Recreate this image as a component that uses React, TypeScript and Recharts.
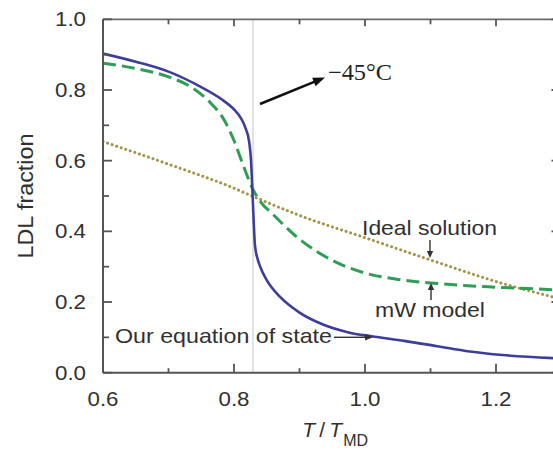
import React from 'react';
import { LineChart, Line, XAxis, YAxis, ReferenceLine, ReferenceDot } from 'recharts';

// ---- data ----
const xTicks = [0.6, 0.7, 0.8, 0.9, 1.0, 1.1, 1.2, 1.3];
const yTicks = [0, 0.1, 0.2, 0.3, 0.4, 0.5, 0.6, 0.7, 0.8, 0.9, 1.0];

const eosT = [0.60, 0.65, 0.70, 0.75, 0.78, 0.80, 0.81, 0.818, 0.823, 0.826, 0.828, 0.830, 0.832, 0.836, 0.840, 0.850, 0.870, 0.900, 0.935, 0.975, 1.01, 1.06, 1.11, 1.16, 1.21, 1.30];
const eosF = [0.903, 0.880, 0.852, 0.808, 0.775, 0.745, 0.722, 0.690, 0.655, 0.600, 0.520, 0.430, 0.360, 0.322, 0.300, 0.262, 0.215, 0.170, 0.137, 0.114, 0.103, 0.090, 0.075, 0.060, 0.050, 0.040];

const mwT = [0.60, 0.65, 0.70, 0.735, 0.765, 0.785, 0.80, 0.815, 0.828, 0.84, 0.86, 0.90, 0.95, 1.00, 1.05, 1.10, 1.15, 1.20, 1.30];
const mwF = [0.876, 0.861, 0.837, 0.808, 0.762, 0.715, 0.657, 0.582, 0.522, 0.485, 0.447, 0.378, 0.318, 0.282, 0.264, 0.254, 0.247, 0.242, 0.234];

const idealT = [0.6, 0.7, 0.8, 0.83, 0.9, 1.0, 1.1, 1.2, 1.3];
const idealF = [0.654, 0.590, 0.522, 0.498, 0.445, 0.382, 0.319, 0.258, 0.208];

const markerT = 0.829; // -45 °C

const zip = (ts: number[], fs: number[]) => ts.map((t, i) => ({ t, f: fs[i] }));
const eosData = zip(eosT, eosF);
const mwData = zip(mwT, mwF);
const idealData = zip(idealT, idealF);

// ---- styles ----
const FONT = '"Liberation Sans", Arial, Helvetica, sans-serif';
const SERIF = '"Times New Roman", "Liberation Serif", Times, serif';
const TXT = '#303030';
const AX = '#555';

const isMajor = (v: number) => Math.round(v * 10) % 2 === 0;

const LeftTick = (props: any) => {
  const { x, y, payload } = props;
  const v = payload.value;
  const major = isMajor(v);
  return (
    <g>
      <line x1={x} x2={x + (major ? 9 : 6)} y1={y} y2={y} stroke={AX} strokeWidth={1.8} />
      {major && (
        <text x={x - 17} y={y + 7} textAnchor="end" fontSize={20} fill={TXT} fontFamily={FONT}
          textLength={31} lengthAdjust="spacingAndGlyphs">{v.toFixed(1)}</text>
      )}
    </g>
  );
};

const RightTick = (props: any) => {
  const { x, y, payload } = props;
  const major = isMajor(payload.value);
  return <line x1={x} x2={x - (major ? 10 : 6)} y1={y} y2={y} stroke={AX} strokeWidth={1.8} />;
};

const BottomTick = (props: any) => {
  const { x, y, payload } = props;
  const v = payload.value;
  const major = isMajor(v);
  return (
    <g>
      <line x1={x} x2={x} y1={y} y2={y - (major ? 9 : 4.5)} stroke={AX} strokeWidth={1.8} />
      {major && v < 1.25 && (
        <text x={x} y={y + 33.5} textAnchor="middle" fontSize={20} fill={TXT} fontFamily={FONT}
          textLength={31} lengthAdjust="spacingAndGlyphs">{v.toFixed(1)}</text>
      )}
    </g>
  );
};

const TopTick = (props: any) => {
  const { x, y, payload } = props;
  const major = isMajor(payload.value);
  return <line x1={x} x2={x} y1={y} y2={y + (major ? 7 : 5)} stroke={AX} strokeWidth={1.8} />;
};

const arrowShape = (color: string, w: number, len: number, half: number) => (p: any) => {
  const { x1, y1, x2, y2 } = p;
  const dx = x2 - x1, dy = y2 - y1;
  const L = Math.hypot(dx, dy) || 1;
  const ux = dx / L, uy = dy / L;
  const bx = x2 - ux * len, by = y2 - uy * len;
  const px = -uy, py = ux;
  return (
    <g>
      <line x1={x1} y1={y1} x2={bx + ux * 1} y2={by + uy * 1} stroke={color} strokeWidth={w} />
      <polygon points={`${x2},${y2} ${bx + px * half},${by + py * half} ${bx - px * half},${by - py * half}`} fill={color} />
    </g>
  );
};

const textShape = (str: string, opts: any) => (p: any) => (
  <text x={p.cx} y={p.cy} fill={opts.fill || TXT} fontSize={opts.size}
    style={{ fontFamily: opts.family || FONT }}
    textAnchor={opts.anchor || 'start'} textLength={opts.len} lengthAdjust="spacingAndGlyphs">{str}</text>
);

const YTitle = (p: any) => {
  const vb = p.viewBox || { x: 0, y: 19.3, width: 103, height: 353.4 };
  const cy = vb.y + vb.height / 2;
  const x = 33;
  return (
    <text x={x} y={cy} transform={`rotate(-90 ${x} ${cy})`} textAnchor="middle" fontSize={22}
      fill={TXT} fontFamily={FONT} textLength={125} lengthAdjust="spacingAndGlyphs">LDL fraction</text>
  );
};

const XTitle = (p: any) => {
  const vb = p.viewBox || { x: 103, y: 372.7, width: 458.5, height: 79.3 };
  const cx = vb.x + vb.width / 2;
  const base = vb.y + 64;
  return (
    <g fill={TXT} fontFamily={FONT}>
      <text x={cx - 30} y={base} fontSize={21} fontStyle="italic">T</text>
      <text x={cx - 13} y={base} fontSize={21}>/</text>
      <text x={cx - 3} y={base} fontSize={21} fontStyle="italic">T</text>
      <text x={cx + 11} y={base + 9} fontSize={16}>MD</text>
    </g>
  );
};

export default function App() {
  return (
    <div style={{ position: 'absolute', left: 0, top: 0, width: 553, height: 452, overflow: 'hidden', background: '#fff' }}>
      <LineChart width={620} height={452} margin={{ top: 9.3, right: 48.5, bottom: 0, left: 0 }}>
        <XAxis xAxisId="b" orientation="bottom" type="number" dataKey="t" domain={[0.6, 1.3]} ticks={xTicks}
          interval={0} height={79.3} tickSize={0} tickMargin={0} tickLine={false} tick={BottomTick}
          axisLine={{ stroke: AX, strokeWidth: 2 }} allowDataOverflow label={XTitle} />
        <XAxis xAxisId="t" orientation="top" type="number" dataKey="t" domain={[0.6, 1.3]} ticks={xTicks}
          interval={0} height={10} tickSize={0} tickMargin={0} tickLine={false} tick={TopTick}
          axisLine={{ stroke: '#6a6a6a', strokeWidth: 1.8 }} allowDataOverflow />
        <YAxis yAxisId="l" orientation="left" type="number" domain={[0, 1]} ticks={yTicks} interval={0}
          width={103} tickSize={0} tickMargin={0} tickLine={false} tick={LeftTick}
          axisLine={{ stroke: AX, strokeWidth: 2 }} allowDataOverflow label={YTitle} />
        <YAxis yAxisId="r" orientation="right" type="number" domain={[0, 1]} ticks={yTicks} interval={0}
          width={10} tickSize={0} tickMargin={0} tickLine={false} tick={RightTick}
          axisLine={{ stroke: '#6a6a6a', strokeWidth: 1.8 }} allowDataOverflow />

        <ReferenceLine xAxisId="b" yAxisId="l" x={markerT} stroke="#cfcfcf" strokeWidth={1.2} />

        <Line xAxisId="b" yAxisId="l" data={idealData} dataKey="f" type="monotone" dot={false}
          stroke="#a3944a" strokeWidth={3} strokeDasharray="0.1 4.7" strokeLinecap="round" isAnimationActive={false} />
        <Line xAxisId="b" yAxisId="l" data={mwData} dataKey="f" type="monotone" dot={false}
          stroke="#2f9e55" strokeWidth={3} strokeDasharray="13 6" isAnimationActive={false} />
        <Line xAxisId="b" yAxisId="l" data={eosData} dataKey="f" type="monotone" dot={false}
          stroke="#3d3d9c" strokeWidth={2.6} isAnimationActive={false} />

        {/* annotations */}
        <ReferenceLine xAxisId="b" yAxisId="l" ifOverflow="visible"
          segment={[{ x: 0.8397, y: 0.7603 }, { x: 0.9389, y: 0.8353 }]} shape={arrowShape('#111', 2.6, 12, 4.5)} />
        <ReferenceDot xAxisId="b" yAxisId="l" x={0.9435} y={0.8282} r={0} ifOverflow="visible"
          shape={textShape('\u221245\u00B0C', { size: 23, family: SERIF, len: 64, fill: '#222' })} />

        <ReferenceDot xAxisId="b" yAxisId="l" x={1.0985} y={0.3896} r={0} ifOverflow="visible"
          shape={textShape('Ideal solution', { size: 21, len: 135, anchor: 'middle' })} />
        <ReferenceLine xAxisId="b" yAxisId="l" ifOverflow="visible"
          segment={[{ x: 1.0992, y: 0.3755 }, { x: 1.0992, y: 0.3245 }]} shape={arrowShape('#333', 1.4, 7, 3.2)} />

        <ReferenceDot xAxisId="b" yAxisId="l" x={1.0992} y={0.1585} r={0} ifOverflow="visible"
          shape={textShape('mW model', { size: 21, len: 110, anchor: 'middle' })} />
        <ReferenceLine xAxisId="b" yAxisId="l" ifOverflow="visible"
          segment={[{ x: 1.1008, y: 0.2057 }, { x: 1.1008, y: 0.2538 }]} shape={arrowShape('#333', 1.4, 7, 3.2)} />

        <ReferenceDot xAxisId="b" yAxisId="l" x={0.6183} y={0.084} r={0} ifOverflow="visible"
          shape={textShape('Our equation of state', { size: 21, len: 217 })} />
        <ReferenceLine xAxisId="b" yAxisId="l" ifOverflow="visible"
          segment={[{ x: 0.9527, y: 0.1002 }, { x: 1.0122, y: 0.1002 }]} shape={arrowShape('#333', 1.4, 8, 3.2)} />
      </LineChart>
    </div>
  );
}
